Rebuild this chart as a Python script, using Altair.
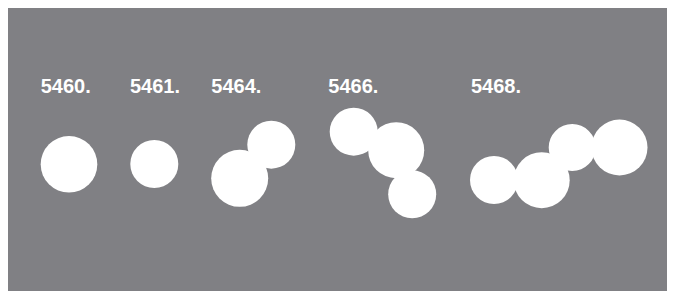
import altair as alt
import pandas as pd

# Spectral codes and their sunspot-group circles
labels = ["5460.", "5461.", "5464.", "5466.", "5468."]
label_x = [32.7, 122, 203.3, 320.3, 463]
label_y = [84.5, 84.5, 84.5, 84.5, 84.5]

circle_group = ["5460", "5461", "5464", "5464", "5466", "5466", "5466",
                "5468", "5468", "5468", "5468"]
circle_x = [61, 146.3, 231.7, 263.3, 345.7, 388.2, 404.2, 486, 533.7, 564.2, 611.5]
circle_y = [156.3, 156, 170.3, 136.7, 123.7, 142.2, 186.3, 172, 172.2, 139.5, 139.5]
circle_r = [28.3, 24, 28.5, 24, 24, 28, 24, 24, 28, 23.5, 28]

W, H = 659, 283

circles = pd.DataFrame({"group": circle_group, "x": circle_x, "y": circle_y, "r": circle_r})
texts = pd.DataFrame({"label": labels, "x": label_x, "y": label_y})

xs = alt.Scale(domain=[0, W], nice=False, zero=False)
ys = alt.Scale(domain=[0, H], nice=False, zero=False, reverse=True)

# Vega circle symbols have radius sqrt(size)/2
circ = alt.Chart(circles).transform_calculate(
    area="4 * datum.r * datum.r"
).mark_circle(color="white", opacity=1).encode(
    x=alt.X("x:Q", scale=xs, axis=None),
    y=alt.Y("y:Q", scale=ys, axis=None),
    size=alt.Size("area:Q", scale=None, legend=None),
)

txt = alt.Chart(texts).mark_text(
    color="white", font="Liberation Sans", fontWeight="bold",
    fontSize=20, align="left", baseline="alphabetic"
).encode(
    x=alt.X("x:Q", scale=xs, axis=None),
    y=alt.Y("y:Q", scale=ys, axis=None),
    text="label:N",
)

chart = alt.layer(circ, txt).properties(
    width=W, height=H, padding=0, autosize=alt.AutoSizeParams(type="none"),
    background="#808084",
).configure_view(stroke=None)

chart.save("out.html", embed_options={"renderer": "svg", "actions": False})
